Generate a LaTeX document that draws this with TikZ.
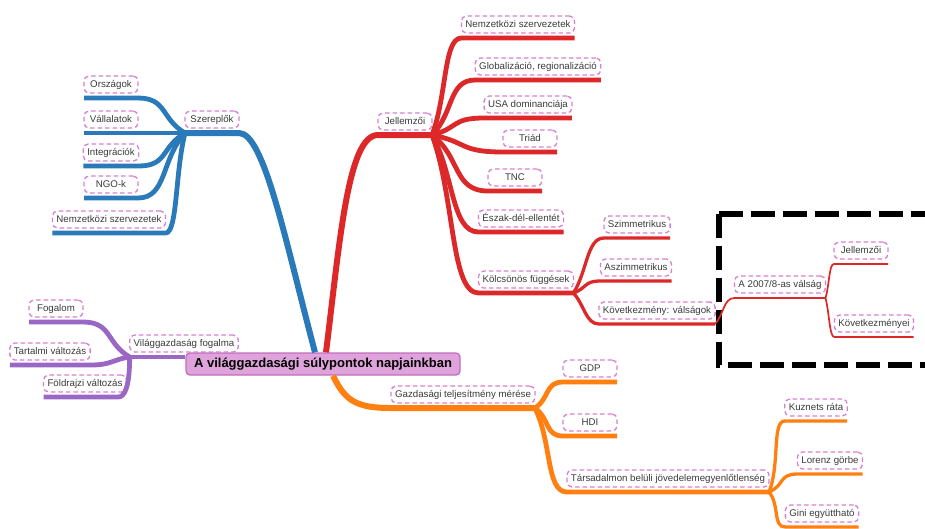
\documentclass[tikz,border=0pt]{standalone}
\usepackage{fontspec}
\setmainfont{Liberation Sans}
\usepackage{tikz}
\usetikzlibrary{positioning}

\definecolor{blueB}{HTML}{2A7AB9}
\definecolor{redB}{HTML}{DC2828}
\definecolor{orangeB}{HTML}{FF7F10}
\definecolor{purpB}{HTML}{9A68C4}
\definecolor{lblpink}{HTML}{D77FD2}
\definecolor{cenfill}{HTML}{DDA3DA}
\definecolor{cendraw}{HTML}{C46CC0}
\definecolor{txtgray}{HTML}{3A3A3A}

\tikzset{
  lbl/.style={draw=lblpink, dash pattern=on 4.5pt off 3pt, line width=1.3pt,
    rounded corners=5pt, text=txtgray, font=\fontsize{9.7}{11}\selectfont,
    inner xsep=4pt, inner ysep=4pt, text height=7pt, text depth=2pt,
    minimum width=54pt, outer xsep=0pt, outer ysep=5pt, anchor=south},
  cen/.style={draw=cendraw, fill=cenfill, line width=1.3pt, rounded corners=4pt,
    font=\fontsize{13}{15}\selectfont\bfseries, minimum width=274pt,
    minimum height=22pt, inner sep=2pt},
  trunk/.style={line width=6pt},
  twig/.style={line width=4.8pt},
  leaf/.style={line width=3.3pt},
  hair/.style={line width=1.7pt}
}

\begin{document}
\begin{tikzpicture}[x=1pt, y=-1pt]
  \useasboundingbox (0,0) rectangle (925,528);

  % dashed frame
  \draw[line width=6pt, dash pattern=on 24pt off 8pt] (719,213.5) -- (940,213.5);
  \draw[line width=6pt, dash pattern=on 24pt off 8pt] (719,213.5) -- (719,365) -- (940,365);

  \node[cen] (cen) at (323,364) {A világgazdasági súlypontok napjainkban};

  % Szereplok
  \node[lbl] (sz) at (212,133) {Szereplők};
  \node[lbl] (orsz) at (111,98) {Országok};
  \node[lbl] (vall) at (111,133) {Vállalatok};
  \node[lbl] (integr) at (111,166) {Integrációk};
  \node[lbl] (ngo) at (111,198) {NGO-k};
  \node[lbl] (nszB) at (109,233) {Nemzetközi szervezetek};

  \draw[blueB, trunk] ([xshift=-8pt]cen.north) .. controls +(-30,-113) and +(25,0) .. (sz.south east) -- (sz.south west);
  \draw[blueB, twig] (sz.south west) .. controls +(-24,-14) and +(29,0) .. (orsz.south east) -- (orsz.south west);
  \draw[blueB, twig] (sz.south west) -- (vall.south west);
  \draw[blueB, twig] (sz.south west) .. controls +(-24,14) and +(29,0) .. (integr.south east) -- (integr.south west);
  \draw[blueB, twig] (sz.south west) .. controls +(-24,26) and +(29,0) .. (ngo.south east) -- (ngo.south west);
  \draw[blueB, twig] (sz.south west) .. controls +(-10,40) and +(12,0) .. (nszB.south east) -- (nszB.south west);

  % Jellemzoi
  \node[lbl] (jel) at (405,135) {Jellemzői};
  \node[lbl] (nsz) at (518,38) {Nemzetközi szervezetek};
  \node[lbl] (glob) at (538,80) {Globalizáció, regionalizáció};
  \node[lbl] (usa) at (528,118) {USA dominanciája};
  \node[lbl] (triad) at (530,152) {Triád};
  \node[lbl] (tnc) at (515,191) {TNC};
  \node[lbl] (eszak) at (521,232) {Észak-dél-ellentét};
  \node[lbl] (kolcs) at (526,293) {Kölcsönös függések};

  \draw[redB, trunk] ([xshift=3pt]cen.north) .. controls +(14,-113) and +(-30,0) .. (jel.south west) -- (jel.south east);
  \draw[redB, twig] (jel.south east) .. controls +(15,-39) and +(-18,0) .. (nsz.south west) -- (nsz.south east);
  \draw[redB, twig] (jel.south east) .. controls +(22,-22) and +(-27,0) .. (glob.south west) -- (glob.south east);
  \draw[redB, twig] (jel.south east) .. controls +(27,-7) and +(-33,0) .. (usa.south west) -- (usa.south east);
  \draw[redB, twig] (jel.south east) .. controls +(36,7) and +(-44,0) .. (triad.south west) -- (triad.south east);
  \draw[redB, twig] (jel.south east) .. controls +(29,22) and +(-35,0) .. (tnc.south west) -- (tnc.south east);
  \draw[redB, twig] (jel.south east) .. controls +(22,39) and +(-27,0) .. (eszak.south west) -- (eszak.south east);
  \draw[redB, twig] (jel.south east) .. controls +(23,63) and +(-28,0) .. (kolcs.south west) -- (kolcs.south east);

  \node[lbl] (szim) at (637,238) {Szimmetrikus};
  \node[lbl] (aszim) at (636,281) {Aszimmetrikus};
  \node[lbl] (kovet) at (657,324) {Következmény: válságok};

  \draw[redB, leaf] (kolcs.south east) .. controls +(14,-22) and +(-17,0) .. (szim.south west) -- (szim.south east);
  \draw[redB, leaf] (kolcs.south east) .. controls +(14,-5) and +(-17,0) .. (aszim.south west) -- (aszim.south east);
  \draw[redB, leaf] (kolcs.south east) .. controls +(11,12) and +(-13,0) .. (kovet.south west) -- (kovet.south east);

  \node[lbl] (valsag) at (780,298) {A 2007/8-as válság};
  \node[lbl] (jel2) at (861,264) {Jellemzői};
  \node[lbl] (kovet2) at (874,337) {Következményei};

  \draw[redB, hair] (kovet.south east) .. controls +(9,-10) and +(-11,0) .. (valsag.south west) -- (valsag.south east);
  \draw[redB, hair] (valsag.south east) .. controls +(4,-14) and +(-5,0) .. (jel2.south west) -- (jel2.south east);
  \draw[redB, hair] (valsag.south east) .. controls +(4,16) and +(-5,0) .. (kovet2.south west) -- (kovet2.south east);

  % Gazdasagi teljesitmeny
  \node[lbl] (gazd) at (463,408) {Gazdasági teljesítmény mérése};
  \node[lbl] (gdp) at (590,382) {GDP};
  \node[lbl] (hdi) at (590,436) {HDI};
  \node[lbl] (tars) at (668,492) {Társadalmon belüli jövedelemegyenlőtlenség};
  \node[lbl] (kuz) at (816,421) {Kuznets ráta};
  \node[lbl] (lor) at (830,474) {Lorenz görbe};
  \node[lbl] (gini) at (822,527) {Gini együttható};

  \draw[orangeB, trunk] ([xshift=10pt]cen.south) .. controls +(12,25) and +(-35,0) .. (gazd.south west) -- (gazd.south east);
  \draw[orangeB, twig] (gazd.south east) .. controls +(15,-10) and +(-18,0) .. (gdp.south west) -- (gdp.south east);
  \draw[orangeB, twig] (gazd.south east) .. controls +(15,11) and +(-18,0) .. (hdi.south west) -- (hdi.south east);
  \draw[orangeB, twig] (gazd.south east) .. controls +(17,34) and +(-21,0) .. (tars.south west) -- (tars.south east);
  \draw[orangeB, leaf] (tars.south east) .. controls +(11,-28) and +(-13,0) .. (kuz.south west) -- (kuz.south east);
  \draw[orangeB, leaf] (tars.south east) .. controls +(16,-7) and +(-19,0) .. (lor.south west) -- (lor.south east);
  \draw[orangeB, leaf] (tars.south east) .. controls +(11,14) and +(-13,0) .. (gini.south west) -- (gini.south east);

  % Vilaggazdasag fogalma
  \node[lbl] (vgf) at (184,357) {Világgazdaság fogalma};
  \node[lbl] (fog) at (56,322) {Fogalom};
  \node[lbl] (tart) at (50,365) {Tartalmi változás};
  \node[lbl] (fold) at (85,397) {Földrajzi változás};

  \draw[purpB, twig] (vgf.south west) -- (vgf.south west -| cen.west);
  \draw[purpB, twig] (vgf.south west) .. controls +(-24,-14) and +(29,0) .. (fog.south east) -- (fog.south west);
  \draw[purpB, twig] (vgf.south west) .. controls +(-19,3) and +(22,0) .. (tart.south east) -- (tart.south west);
  \draw[purpB, twig] (vgf.south west) .. controls +(0,30) and +(6,0) .. ([xshift=-8pt]fold.south east) -- (fold.south west);
\end{tikzpicture}
\end{document}
